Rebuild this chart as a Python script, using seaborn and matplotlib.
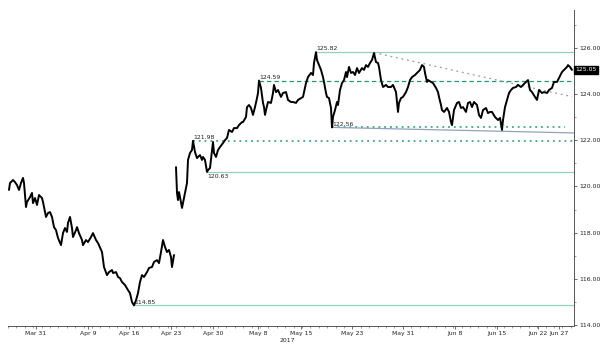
import matplotlib
matplotlib.use("Agg")
import matplotlib.pyplot as plt
from matplotlib.ticker import MultipleLocator
import numpy as np
import pandas as pd
import seaborn as sns

# 3-hour bars counted from the left edge of the chart, EUR/JPY closes
bars_1 = [1, 2, 5, 7, 9, 11, 13, 15, 16, 18, 19, 22, 24, 25, 27, 29, 31, 34, 35, 38,
          40, 42, 44, 46, 48, 50, 53, 55, 57, 59, 60, 62, 64, 65, 68, 69, 71, 74, 75, 78,
          80, 83, 85, 88, 90, 94, 96, 99, 101, 104, 105, 108, 110, 112, 114, 117, 120, 122, 124, 126,
          128, 130, 132, 134, 136, 139, 141, 144, 146, 149, 151, 153, 155, 157, 159, 161, 163, 164, 166]
price_1 = [119.85, 120.15, 120.28, 120.19, 120.06, 119.85, 120.15, 120.37, 120.15, 119.11,
           119.33, 119.54, 119.72, 119.28, 119.50, 119.20, 119.63, 119.50, 119.33, 118.68,
           118.85, 118.89, 118.68, 118.24, 118.11, 117.77, 117.46, 117.98, 118.20, 118.03,
           118.42, 118.68, 118.20, 117.81, 118.11, 118.24, 117.98, 117.68, 117.46, 117.68,
           117.59, 117.81, 117.98, 117.68, 117.55, 117.16, 116.51, 116.16, 116.29, 116.38,
           116.25, 116.29, 116.08, 116.03, 115.86, 115.73, 115.51, 115.38, 114.99, 114.85,
           115.07, 115.38, 115.86, 116.16, 116.08, 116.29, 116.47, 116.51, 116.73, 116.81,
           116.68, 117.16, 117.68, 117.38, 117.16, 117.25, 116.94, 116.51, 117.03]

bars_2 = [168, 169, 170, 171, 172, 174, 175, 177, 179, 180, 182, 184, 185, 187, 189, 190, 192, 194, 195, 197,
          199, 200, 202, 205, 206, 208, 210, 212, 215, 217, 219, 221, 224, 226, 229, 231, 234, 235, 238, 239,
          241, 243, 245, 247, 249, 250, 251, 253, 255, 256, 257, 258, 260, 263, 265, 266, 268, 270, 273, 275,
          278, 280, 283, 285, 288, 290, 293, 295, 298, 300, 303, 305, 306, 308, 309, 311, 313, 315, 316, 318,
          319, 321, 323, 324, 325, 327, 329, 330, 332, 334, 336, 338, 339, 341, 343, 345, 347, 349, 351, 354,
          356, 358, 360, 362, 364, 366, 368, 370, 371, 373, 375, 378, 380, 383, 385, 388, 390, 391, 393, 395,
          398, 400, 402, 404, 407, 410, 412, 414, 416, 417, 419, 420, 423, 425, 428, 430, 431, 433, 434, 436,
          439, 441, 443, 444, 446, 449, 451, 453, 455, 458, 460, 462, 464, 466, 469, 471, 473, 475, 478, 480,
          482, 484, 487, 490, 492, 494, 495, 497, 499, 501, 503, 505, 508, 510, 513, 515, 518, 520, 522, 524,
          527, 529, 531, 534, 536, 539, 541, 544, 546, 549, 551, 554, 556, 559, 560, 562, 564]
price_2 = [120.84, 119.72, 119.41, 119.76, 119.54, 119.07, 119.28, 119.72, 120.15, 121.15,
           121.45, 121.58, 121.98, 121.49, 121.23, 121.28, 121.36, 121.15, 121.28, 121.15,
           120.63, 120.71, 120.80, 121.93, 121.45, 121.28, 121.58, 121.71, 121.88, 122.01,
           122.10, 122.45, 122.36, 122.53, 122.53, 122.66, 122.79, 122.79, 123.01, 123.44,
           123.53, 123.40, 123.10, 123.44, 123.83, 124.05, 124.59, 124.27, 123.62, 123.44,
           123.10, 123.31, 123.66, 123.62, 124.05, 124.40, 124.09, 124.18, 123.88, 124.05,
           124.09, 123.75, 123.66, 123.66, 123.62, 123.75, 123.83, 123.88, 124.48, 124.74,
           124.92, 124.83, 125.35, 125.82, 125.48, 125.26, 125.05, 124.74, 124.53, 124.05,
           123.88, 123.83, 123.40, 122.56, 123.01, 123.31, 123.66, 123.53, 124.18, 124.48,
           124.61, 124.96, 124.74, 125.18, 124.92, 124.96, 124.83, 125.13, 124.92, 125.13,
           125.05, 125.26, 125.18, 125.35, 125.48, 125.78, 125.39, 125.35, 125.18, 124.61,
           124.31, 124.40, 124.31, 124.31, 124.40, 124.09, 123.23, 123.62, 123.83, 123.88,
           124.09, 124.31, 124.61, 124.74, 124.83, 124.96, 125.05, 125.26, 125.18, 124.92,
           124.53, 124.61, 124.53, 124.48, 124.27, 124.09, 123.88, 123.53, 123.31, 123.23,
           123.40, 123.23, 122.79, 122.66, 123.31, 123.62, 123.66, 123.40, 123.44, 123.23,
           123.62, 123.66, 123.44, 123.66, 123.53, 123.10, 122.97, 123.31, 123.40, 123.18,
           123.23, 123.23, 123.01, 122.88, 122.97, 122.45, 122.88, 123.44, 123.75, 124.05,
           124.18, 124.27, 124.31, 124.40, 124.31, 124.40, 124.53, 124.61, 124.18, 124.09,
           123.88, 123.75, 124.18, 124.05, 124.09, 124.05, 124.18, 124.27, 124.53, 124.53,
           124.70, 124.96, 125.05, 125.18, 125.26, 125.18, 125.05]

# support / resistance levels: (bar where it starts, level, line style)
levels = [(308, 125.82, "solid"), (251, 124.59, "dashed"), (324, 122.56, "dotted"),
          (185, 121.98, "dotted"), (199, 120.63, "solid"), (126, 114.85, "solid")]
level_labels = ["125.82", "124.59", "122.56", "121.98", "120.63", "114.85"]

# falling trendline from the May high and the soft support under the range
resist_bars = [366, 564]
resist_vals = [125.80, 123.89]
support_bars = [324, 566]
support_vals = [122.56, 122.32]

tick_bars = [28, 80, 121, 163, 205, 250, 293, 344, 395, 447, 489, 530, 551]
tick_labels = ["Mar 31", "Apr 9", "Apr 16", "Apr 23", "Apr 30", "May 8", "May 15",
               "May 23", "May 31", "Jun 8", "Jun 15", "Jun 22", "Jun 27"]
last_price = 125.05

df = pd.concat([
    pd.DataFrame({"bar": bars_1, "price": price_1, "seg": 1}),
    pd.DataFrame({"bar": bars_2, "price": price_2, "seg": 2}),
])

sns.set_style("white")
plt.rcParams["font.family"] = ["DejaVu Sans"]

fig = plt.figure(figsize=(6, 3.52), dpi=100)
ax = fig.add_axes([8 / 600, 26 / 352, 566 / 600, 316 / 352])

green_light = "#8fd3bd"
green_dark = "#1f9a6c"
xmax = 566

for (b, v, style), lab in zip(levels, level_labels):
    if style == "solid":
        ax.plot([b, xmax], [v, v], color=green_light, lw=0.9, zorder=1)
    elif style == "dashed":
        ax.plot([b, xmax], [v, v], color=green_dark, lw=0.9, ls=(0, (3.5, 2.5)), zorder=1)
    else:
        end = 557 if lab == "122.56" else xmax
        ax.plot([b, end], [v, v], color=green_dark, lw=1.1, ls=(0, (1.2, 2.6)), zorder=1)
    va = "top" if lab == "120.63" else "bottom"
    dy = -0.08 if va == "top" else 0.03
    ax.text(b + 0.5, v + dy, lab, fontsize=4.4, color="#222222", ha="left", va=va, zorder=4)

ax.plot(resist_bars, resist_vals, color="#9a9a9a", lw=0.9, ls=(0, (1.5, 3)), zorder=1)
ax.plot(support_bars, support_vals, color="#8fa3bd", lw=0.9, zorder=1)

sns.lineplot(data=df, x="bar", y="price", units="seg", estimator=None,
             color="black", lw=1.4, ax=ax, zorder=3, legend=False)

ax.set_xlim(0, xmax)
ax.set_ylim(126 - 278 / 23.08, 126 + 38 / 23.08)
ax.set_xlabel("")
ax.set_ylabel("")

ax.yaxis.tick_right()
ax.set_yticks(np.arange(114, 127, 2))
ax.set_yticklabels([f"{v:.2f}" for v in np.arange(114, 127, 2)])
ax.yaxis.set_minor_locator(MultipleLocator(1))
ax.set_xticks(tick_bars)
ax.set_xticklabels(tick_labels)
ax.xaxis.set_minor_locator(MultipleLocator(8.4))

ax.tick_params(axis="both", which="major", labelsize=4.4, length=2.5, width=0.6,
               color="#555555", labelcolor="#222222", direction="out", pad=1.2)
ax.tick_params(axis="both", which="minor", length=1.5, width=0.5, color="#777777")
ax.tick_params(axis="y", which="both", left=False, right=True)
ax.tick_params(axis="x", which="both", bottom=True, top=False)

for s in ["top", "left"]:
    ax.spines[s].set_visible(False)
for s in ["right", "bottom"]:
    ax.spines[s].set_visible(True)
    ax.spines[s].set_color("#555555")
    ax.spines[s].set_linewidth(0.7)

fig.text(287 / 600, 1 - 341 / 352, "2017", fontsize=4.4, color="#222222", ha="center", va="center")
ax.text(xmax + 1.5, last_price, f"{last_price:.2f}", fontsize=4.4, color="white", ha="left",
        va="center", zorder=5, clip_on=False,
        bbox=dict(boxstyle="square,pad=0.2", fc="black", ec="black"))

fig.savefig("out.png", dpi=100)
